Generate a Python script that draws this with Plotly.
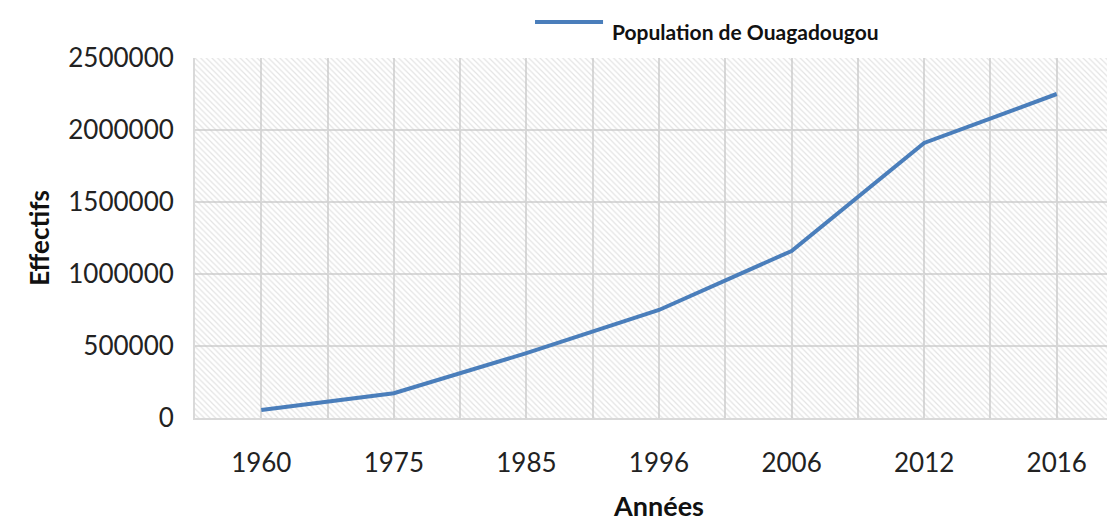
import plotly.graph_objects as go

years = ["1960", "1975", "1985", "1996", "2006", "2012", "2016"]
population = [55000, 172000, 450000, 750000, 1160000, 1910000, 2250000]
y_ticks = [0, 500000, 1000000, 1500000, 2000000, 2500000]
series_name = "Population de Ouagadougou"

xpos = list(range(len(years)))
FONT = "Lato"
LINE_COLOR = "#4a7ebb"

fig = go.Figure()
# hatched plot background
fig.add_trace(go.Bar(
    x=xpos, y=[y_ticks[-1]] * len(years), width=1,
    marker=dict(color="rgba(0,0,0,0)", line=dict(width=0),
                pattern=dict(shape="\\", fgcolor="#c8c8c8", bgcolor="rgba(0,0,0,0)",
                             size=4, solidity=0.3, fillmode="overlay")),
    showlegend=False, hoverinfo="skip",
))
fig.add_trace(go.Scatter(
    x=xpos, y=population, mode="lines", name=series_name,
    line=dict(color=LINE_COLOR, width=4), showlegend=False,
))

# legend (drawn as line sample + label above the plot)
fig.add_shape(type="line", xref="paper", yref="paper",
              x0=0.3664, x1=0.4397, y0=1.10, y1=1.10,
              line=dict(color=LINE_COLOR, width=4))
fig.add_annotation(text="<b>" + series_name + "</b>", xref="paper", yref="paper",
                   x=0.4472, y=1.075, xanchor="left", yanchor="middle", showarrow=False,
                   font=dict(family=FONT, size=21, color="#111111"))

grid = "#d9d9d9"
fig.update_layout(
    width=1115, height=527,
    margin=dict(l=187, r=0, t=50, b=117),
    paper_bgcolor="white", plot_bgcolor="white",
    font=dict(family=FONT, color="#222222"),
    showlegend=False,
    bargap=0,
    xaxis=dict(
        range=[-0.5, 6.5], tickvals=xpos, ticktext=years,
        showgrid=True, gridcolor=grid, gridwidth=2, zeroline=False,
        minor=dict(tickvals=[i + 0.5 for i in range(-1, 7)], showgrid=True, gridcolor=grid, gridwidth=2),
        tickfont=dict(size=26, family=FONT, color="#222222"),
        ticklabelstandoff=21,
        title=dict(text="<b>Années</b>", font=dict(size=27, family=FONT, color="#111111"), standoff=20),
        showline=True, linecolor=grid, linewidth=2,
    ),
    yaxis=dict(
        range=[0, y_ticks[-1]], tickvals=y_ticks, ticktext=[str(v) for v in y_ticks],
        showgrid=True, gridcolor=grid, gridwidth=2, zeroline=False,
        tickfont=dict(size=26, family=FONT, color="#222222"),
        ticklabelstandoff=14,
        title=dict(text="<b>Effectifs</b>", font=dict(size=26, family=FONT, color="#111111"), standoff=11),
        showline=True, linecolor=grid, linewidth=2,
    ),
)

fig.write_html("out.html")
